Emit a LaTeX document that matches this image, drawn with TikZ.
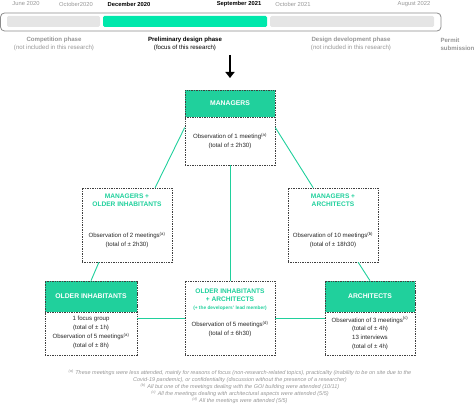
\documentclass[tikz,border=0pt]{standalone}
\usepackage{fontspec}
\setmainfont{Liberation Sans}
\usetikzlibrary{arrows.meta,positioning,calc}
\definecolor{boxgreen}{RGB}{32,208,156}
\definecolor{bargreen}{RGB}{0,232,172}
\definecolor{bargray}{RGB}{229,229,229}
\definecolor{labelgray}{RGB}{150,150,150}

\begin{document}
\begin{tikzpicture}[x=1pt, y=1pt,
		actor/.style={draw=black!75, dash pattern=on 1.4pt off 1pt, line width=0.6pt, minimum width=90pt, minimum height=75pt, inner sep=0pt},
		head/.style={actor, fill=boxgreen, minimum height=27pt, text=white, font=\fontsize{6.8}{8}\selectfont\bfseries},
		title/.style={font=\fontsize{6.6}{8.3}\selectfont\bfseries, align=center, text=boxgreen},
		body/.style={font=\fontsize{6.1}{8.6}\selectfont, align=center, text=black!85},
		link/.style={draw=boxgreen, line width=0.9pt},
		date/.style={font=\fontsize{5.8}{7}\selectfont, text=labelgray},
		phase/.style={font=\fontsize{6.1}{8.2}\selectfont, align=center, text=labelgray}]
		\useasboundingbox (0,0) rectangle (474,405);
		% Zeitleiste
		\draw[draw=black!45, line width=0.8pt, rounded corners=4pt] (0.5,392) rectangle (441,374);
		\fill[bargray, rounded corners=1.5pt] (7,389) rectangle (100,378);
		\fill[bargreen, rounded corners=1.5pt] (103,389) rectangle (267,378);
		\fill[bargray, rounded corners=1.5pt] (270,389) rectangle (434,378);
		% Daten
		\node[date] (d1) at (26,401) {June 2020};
		\node[date] (d2) at (76,401) {October2020};
		\node[date, text=black, font=\fontsize{5.8}{7}\selectfont\bfseries] (d3) at (129,401) {December 2020};
		\node[date, text=black, font=\fontsize{5.8}{7}\selectfont\bfseries] (d4) at (239,401) {September 2021};
		\node[date] (d5) at (293,401) {October 2021};
		\node[date] (d6) at (414,401) {August 2022};
		% Phasen
		\node[phase] (p1) at (54,361) {\textbf{Competition phase}\\(not included in this research)};
		\node[phase, text=black] (p2) at (185,361) {\textbf{Preliminary design phase}\\(focus of this research)};
		\node[phase] (p3) at (351,361) {\textbf{Design development phase}\\(not included in this research)};
		\node[phase, anchor=west, align=left] (p4) at (437,361) {\textbf{Permit}\\\textbf{submission}};
		% Pfeil
		\coordinate (arrtop) at (230,350);
		\coordinate (arrtip) at (230,327);
		\draw[-{Triangle[width=9pt,length=6pt]}, line width=2.6pt] (arrtop) -- (arrtip);
		% Verbindungen
		\node[actor] (mgr) at (230,277.5) {};
		\node[actor, minimum height=74pt] (mo) at (127,180) {};
		\node[actor, minimum height=74pt] (ma) at (333,180) {};
		\node[actor, minimum width=92pt, minimum height=74pt] (old) at (91,87) {};
		\node[actor, minimum height=74pt] (oa) at (230,87) {};
		\node[actor, minimum height=74pt] (arc) at (370,87) {};
		\draw[link] (mgr.west) -- (mo.53);
		\draw[link] (mo.233) -- (old.north);
		\draw[link] (mgr.east) -- (ma.118);
		\draw[link] (ma.304) -- (arc.north);
		\draw[link] (mgr.south) -- (oa.north);
		\draw[link] (old.east) -- (oa.west);
		\draw[link] (oa.east) -- (arc.west);
		% Kästen
		\node[head, anchor=north] (mgrhead) at (mgr.north) {MANAGERS};
		\node[body] (mgrtext) at ($(mgr)+(0,-13.5)$) {Observation of 1 meeting\textsuperscript{(a)}\\(total of ± 2h30)};
		\node[title] (motitle) at ($(mo)+(0,25)$) {MANAGERS +\\OLDER INHABITANTS};
		\node[body] (motext) at ($(mo)+(0,-15)$) {Observation of 2 meetings\textsuperscript{(a)}\\(total of ± 2h30)};
		\node[title] (matitle) at ($(ma)+(0,25)$) {MANAGERS +\\ARCHITECTS};
		\node[body] (matext) at ($(ma)+(0,-15)$) {Observation of 10 meetings\textsuperscript{(b)}\\(total of ± 18h30)};
		\node[head, anchor=north, minimum width=92pt, minimum height=31pt] (oldhead) at (old.north) {OLDER INHABITANTS};
		\node[body] (oldtext) at ($(old)+(0,-14.5)$) {1 focus group\\(total of ± 1h)\\[0.5pt]Observation of 5 meetings\textsuperscript{(a)}\\(total of ± 8h)};
		\node[title] (oatitle) at ($(oa)+(0,23)$) {OLDER INHABITANTS\\+ ARCHITECTS};
		\node[title, font=\fontsize{4.8}{5.5}\selectfont\bfseries] (oanote) at ($(oa)+(0,10)$) {(+ the developers’ lead member)};
		\node[body] (oatext) at ($(oa)+(0,-11)$) {Observation of 5 meetings\textsuperscript{(d)}\\(total of ± 6h30)};
		\node[head, anchor=north, minimum height=31pt] (archead) at (arc.north) {ARCHITECTS};
		\node[body] (arctext) at ($(arc)+(0,-15)$) {Observation of 3 meetings\textsuperscript{(c)}\\(total of ± 4h)\\[0.5pt]13 interviews\\(total of ± 4h)};
		% Fussnoten
		\node[font=\fontsize{5.5}{7}\selectfont\itshape, text=labelgray, align=center] (notes) at (240,18) {\textsuperscript{(a)} These meetings were less attended, mainly for reasons of focus (non-research-related topics), practicality (inability to be on site due to the\\
			Covid-19 pandemic), or confidentiality (discussion without the presence of a researcher)\\
			\textsuperscript{(b)} All but one of the meetings dealing with the GOI building were attended (10/11)\\
			\textsuperscript{(c)} All the meetings dealing with architectural aspects were attended (5/5)\\
			\textsuperscript{(d)} All the meetings were attended (5/5)};
	\end{tikzpicture}
\end{document}
